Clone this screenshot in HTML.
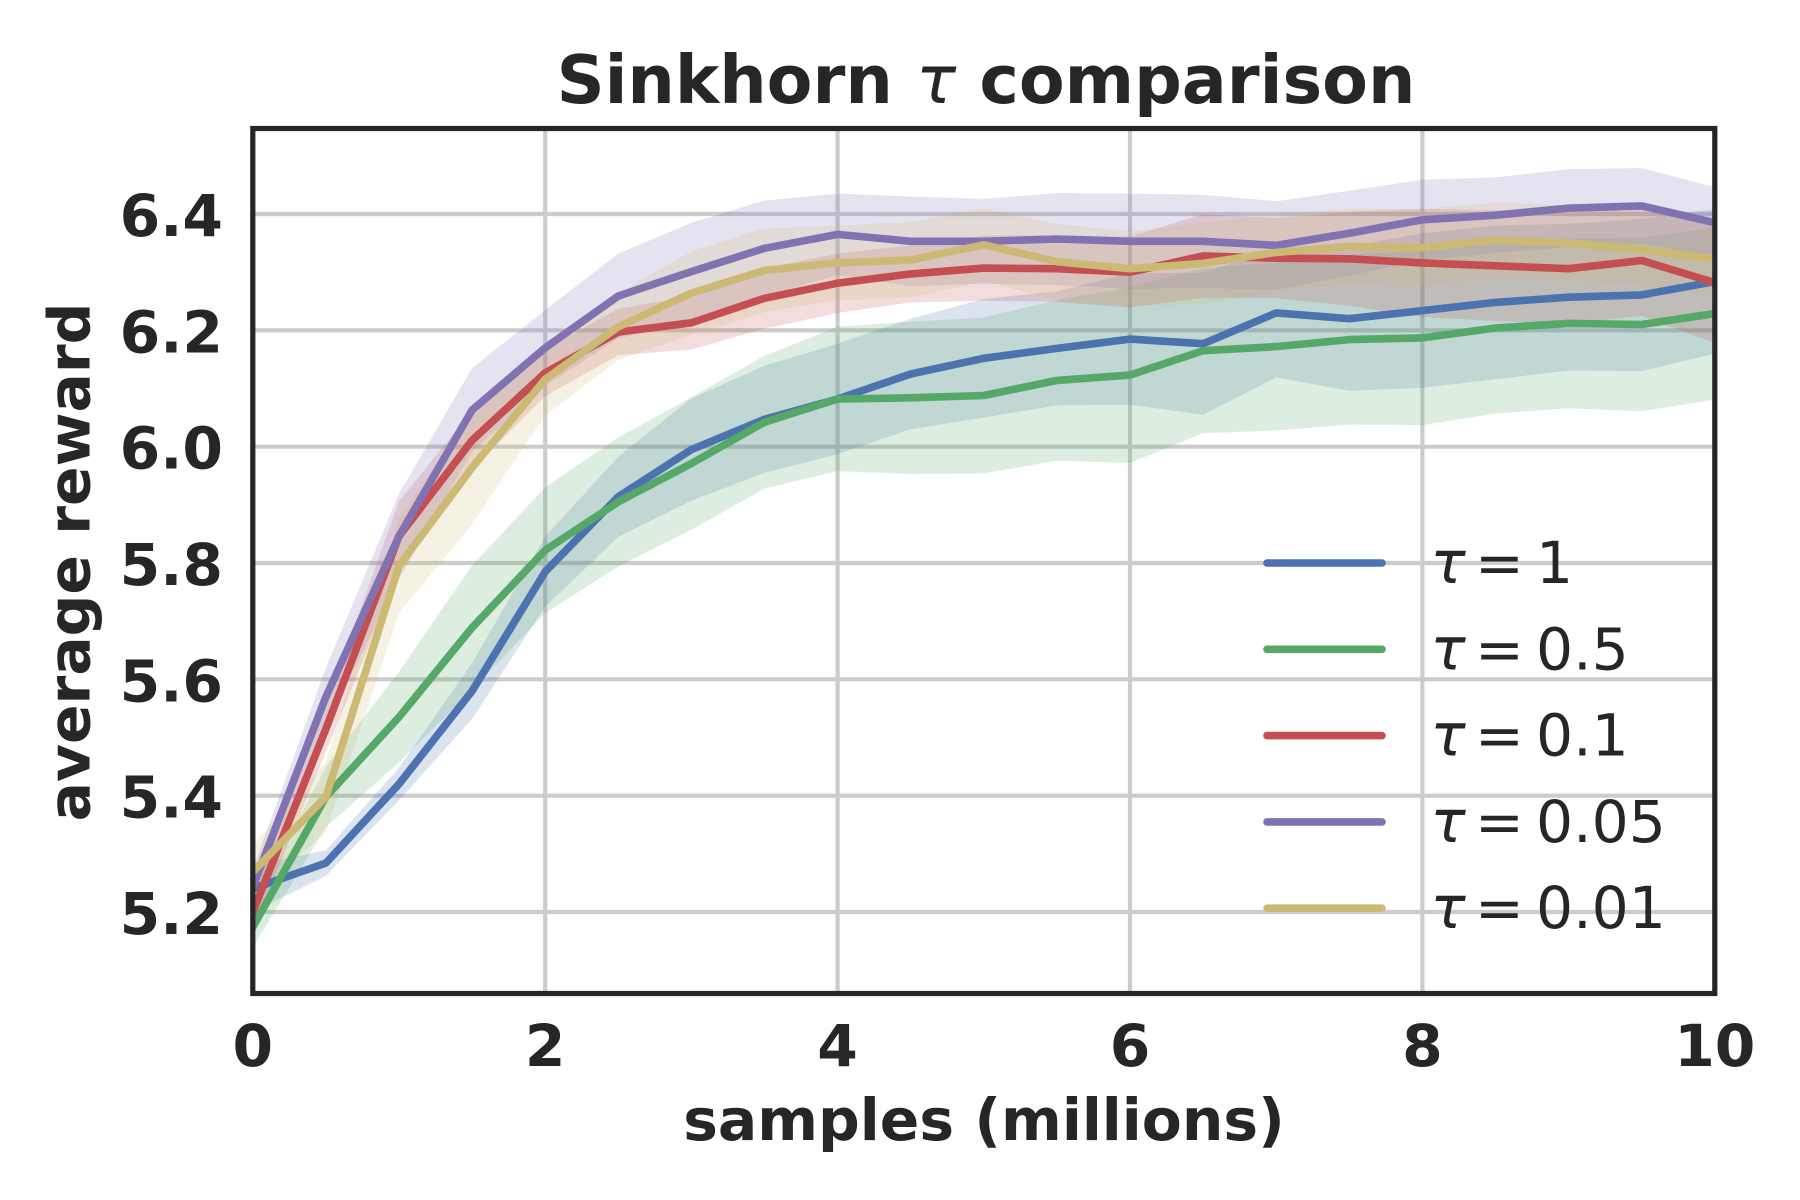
<!DOCTYPE html>
<html>
<head>
<meta charset="utf-8">
<title>Sinkhorn comparison</title>
<style>
html,body{margin:0;padding:0;background:#fff;}
svg{display:block;}
text{font-family:"DejaVu Sans","Liberation Sans",sans-serif;fill:#262626;}
.bold{font-weight:700;font-size:58.33px;}
</style>
</head>
<body>
<svg id="chart" xmlns="http://www.w3.org/2000/svg" width="1800" height="1200" viewBox="0 0 1800 1200">
  <defs><clipPath id="plot-clip"><rect x="252.8" y="128.5" width="1462" height="865"/></clipPath></defs>
  <rect x="0" y="0" width="1800" height="1200" fill="#ffffff"/>
  <g id="grid"></g>
  <g id="bands" clip-path="url(#plot-clip)"></g>
  <g id="lines" clip-path="url(#plot-clip)"></g>
  <g id="legend"></g>
  <rect x="252.8" y="128.5" width="1462" height="865" fill="none" stroke="#262626" stroke-width="5.2"/>
  <g id="ticks"></g>
  <text x="986" y="103" text-anchor="middle" font-size="66.67" font-weight="700">Sinkhorn <tspan font-style="italic" font-weight="400">τ</tspan> comparison</text>
  <text class="bold" x="984" y="1140" text-anchor="middle">samples (millions)</text>
  <text class="bold" x="89.5" y="562" text-anchor="middle" transform="rotate(-90 89.5 562)">average reward</text>
</svg>
<script>
const samples = [0,0.5,1,1.5,2,2.5,3,3.5,4,4.5,5,5.5,6,6.5,7,7.5,8,8.5,9,9.5,10];
const xTickValues = [0,2,4,6,8,10];
const xTickLabels = ["0","2","4","6","8","10"];
const yTickValues = [5.2,5.4,5.6,5.8,6.0,6.2,6.4];
const yTickLabels = ["5.2","5.4","5.6","5.8","6.0","6.2","6.4"];
const seriesNames = ["tau-1","tau-0.5","tau-0.1","tau-0.05","tau-0.01"];
const legendValues = ["1","0.5","0.1","0.05","0.01"];
const seriesColors = ["#4C72B0","#55A868","#C44E52","#8172B2","#CCB974"];

const meanTau1 = [5.24,5.284,5.42,5.58,5.785,5.914,5.995,6.047,6.082,6.125,6.152,6.169,6.185,6.177,6.23,6.22,6.234,6.248,6.257,6.261,6.284];
const meanTau05 = [5.174,5.398,5.535,5.689,5.822,5.905,5.971,6.042,6.082,6.084,6.088,6.114,6.123,6.165,6.172,6.184,6.187,6.204,6.212,6.21,6.229];
const meanTau01 = [5.2,5.515,5.846,6.011,6.127,6.197,6.213,6.255,6.281,6.297,6.307,6.306,6.3,6.328,6.324,6.323,6.316,6.311,6.306,6.32,6.282];
const meanTau005 = [5.243,5.57,5.846,6.063,6.17,6.259,6.301,6.341,6.365,6.353,6.353,6.357,6.353,6.353,6.346,6.367,6.39,6.398,6.41,6.414,6.385];
const meanTau001 = [5.269,5.398,5.795,5.964,6.116,6.206,6.264,6.303,6.316,6.321,6.347,6.318,6.306,6.315,6.334,6.344,6.342,6.355,6.35,6.339,6.322];

const stdTau1 = [0.04,0.022,0.028,0.048,0.06,0.069,0.088,0.092,0.095,0.095,0.102,0.098,0.113,0.122,0.111,0.124,0.133,0.132,0.126,0.131,0.124];
const stdTau05 = [0.035,0.052,0.078,0.107,0.108,0.111,0.114,0.114,0.124,0.131,0.134,0.138,0.151,0.142,0.144,0.146,0.15,0.147,0.146,0.149,0.148];
const stdTau01 = [0.03,0.04,0.06,0.05,0.04,0.04,0.046,0.052,0.051,0.049,0.056,0.057,0.061,0.072,0.069,0.081,0.093,0.095,0.095,0.095,0.104];
const stdTau005 = [0.03,0.05,0.073,0.072,0.065,0.073,0.084,0.082,0.07,0.077,0.073,0.079,0.082,0.08,0.076,0.073,0.069,0.065,0.067,0.065,0.061];
const stdTau001 = [0.046,0.06,0.081,0.098,0.062,0.057,0.072,0.072,0.064,0.065,0.063,0.065,0.064,0.07,0.065,0.065,0.066,0.065,0.065,0.062,0.061];

const means = [meanTau1, meanTau05, meanTau01, meanTau005, meanTau001];
const stds = [stdTau1, stdTau05, stdTau01, stdTau005, stdTau001];

const NS = "http://www.w3.org/2000/svg";
function xScale(v){ return 252.8 + v * 146.2; }
function yScale(v){ return 214 + (6.4 - v) * 581.67; }
function mk(tag, parent, attrs){
  const el = document.createElementNS(NS, tag);
  for (const k in attrs) el.setAttribute(k, attrs[k]);
  parent.appendChild(el);
  return el;
}
const gridG = document.getElementById("grid");
const bandsG = document.getElementById("bands");
const linesG = document.getElementById("lines");
const ticksG = document.getElementById("ticks");
const legendG = document.getElementById("legend");

xTickValues.forEach(function(v, i){
  if (v > 0 && v < 10) {
    const g = mk("line", gridG, {x1:xScale(v), x2:xScale(v), y1:128.5, y2:993.5, stroke:"#cccccc", "stroke-width":4.17});
    
    
  }
  const t = mk("text", ticksG, {x:xScale(v), y:1066, "text-anchor":"middle", "class":"bold"});
  t.textContent = xTickLabels[i];
  
  
});
yTickValues.forEach(function(v, i){
  const g = mk("line", gridG, {x1:252.8, x2:1714.8, y1:yScale(v), y2:yScale(v), stroke:"#cccccc", "stroke-width":4.17});
  
  
  const t = mk("text", ticksG, {x:223, y:yScale(v)+22, "text-anchor":"end", "class":"bold"});
  t.textContent = yTickLabels[i];
  
  
});

means.forEach(function(mean, s){
  const std = stds[s];
  const upper = mean.map(function(m, i){ return xScale(samples[i]).toFixed(1) + "," + yScale(m + std[i]).toFixed(1); });
  const lower = mean.map(function(m, i){ return xScale(samples[i]).toFixed(1) + "," + yScale(m - std[i]).toFixed(1); }).reverse();
  const band = mk("polygon", bandsG, {points: upper.concat(lower).join(" "), fill: seriesColors[s], "fill-opacity":0.2, stroke:"none"});
  
  
});
means.forEach(function(mean, s){
  const pts = mean.map(function(m, i){ return xScale(samples[i]).toFixed(1) + "," + yScale(m).toFixed(1); });
  const line = mk("polyline", linesG, {points: pts.join(" "), fill:"none", stroke: seriesColors[s], "stroke-width":7.6, "stroke-linejoin":"round", "stroke-linecap":"square"});
  
  
});

legendValues.forEach(function(label, i){
  const cy = 563 + i * 86.3;
  const handle = mk("line", legendG, {x1:1273, x2:1388, y1:cy, y2:cy, stroke:seriesColors[i], "stroke-width":7.6, "stroke-linecap":"round"});
  
  
  handle.setAttribute('transform', 'translate(-6 0)');
  const t = mk("text", legendG, {y:cy+20, "font-size":58.33});
  
  
  const tau = mk("tspan", t, {x:1430.5, "font-style":"italic"});
  tau.textContent = "τ";
  const eq = mk("tspan", t, {x:1475});
  eq.textContent = "=";
  const val = mk("tspan", t, {x:1536});
  val.textContent = label;
});
</script>
</body>
</html>
